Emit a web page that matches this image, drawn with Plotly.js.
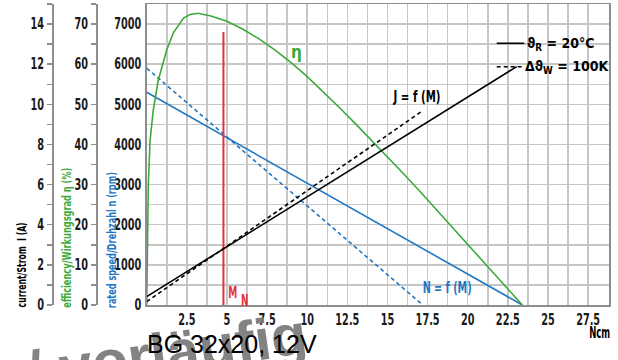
<!DOCTYPE html>
<html><head><meta charset="utf-8">
<script src="https://cdn.plot.ly/plotly-3.0.1.min.js"></script>
<style>html,body{margin:0;padding:0;background:#fff}</style>
</head><body><div id="chart" style="width:618px;height:360px"></div>
<script>
// ---- data ----
const torqueSpeed20 = [0, 23.4];
const speed20 = [5300, 0];
const torqueSpeed100 = [0, 17.2];
const speed100 = [5900, 0];
const torqueCurrent20 = [0, 23.05];
const current20 = [0.42, 11.88];
const torqueCurrent100 = [0, 17.1];
const current100 = [0.17, 9.63];
const torqueEff = [0, 0.04, 0.1, 0.21, 0.41, 0.72, 1.25, 1.66, 2.29, 2.7, 3.2, 4, 5, 6, 7, 8, 9, 10, 11, 12, 13, 14, 15, 16, 17, 18, 19, 20, 21, 22, 23, 23.4];
const efficiency = [0, 18, 30, 41, 48.6, 56, 63.6, 67.8, 71.5, 72.4, 72.7, 72.0, 70.7, 68.7, 66.3, 63.5, 60.4, 56.9, 53.1, 49.2, 45.2, 41.1, 36.9, 32.7, 28.4, 24.0, 19.6, 15.2, 10.8, 6.3, 1.8, 0];
const ratedTorque = [4.78, 4.78];
const ratedLine = [0, 6800];
const xTickVals = [2.5, 5, 7.5, 10, 12.5, 15, 17.5, 20, 22.5, 25, 27.5];
const xTickText = ['2.5', '5', '7.5', '10', '12.5', '15', '17.5', '20', '22.5', '25', '27.5'];

const NARROW = 'DejaVu Sans Condensed, Liberation Sans Narrow, sans-serif';
const GRID = '#c6c6c6';
const AX = '#8e8e8e';
const BLUE = '#1f77c4';
const GREEN = '#3caa3a';
const RED = '#e4303d';
const PW = 609, PT = 4, PB = 305;
const px = x => x / PW;
const py = y => (PB - y) / (PB - PT);

const traces = [
  {x: torqueSpeed20, y: speed20, mode: 'lines', line: {color: BLUE, width: 1.6}, yaxis: 'y'},
  {x: torqueSpeed100, y: speed100, mode: 'lines', line: {color: BLUE, width: 1.6, dash: '4px,3px'}, yaxis: 'y'},
  {x: torqueCurrent20, y: current20, mode: 'lines', line: {color: '#000', width: 1.6}, yaxis: 'y3'},
  {x: torqueCurrent100, y: current100, mode: 'lines', line: {color: '#000', width: 1.6, dash: '4px,3px'}, yaxis: 'y3'},
  {x: torqueEff, y: efficiency, mode: 'lines', line: {color: GREEN, width: 1.6}, yaxis: 'y2'},
  {x: ratedTorque, y: ratedLine, mode: 'lines', line: {color: RED, width: 2}, yaxis: 'y'}
];

const tickFont = {family: NARROW, size: 15, color: '#1a1a1a', weight: 'bold'};
function ann(text, cx, cy, size, color, extra) {
  return Object.assign({text: text, xref: 'paper', yref: 'paper', x: px(cx), y: py(cy),
    xanchor: 'center', yanchor: 'middle', showarrow: false,
    font: {family: NARROW, size: size, color: color, weight: 'bold'}}, extra || {});
}
// target widths (px) of texts, squeezed to the reference's narrow lettering
const squeezeLen = {};
const annotations = [];
function addAnn(a, len) { if (len) squeezeLen[annotations.length] = len; annotations.push(a); }

addAnn(ann('/ vorläufig', 166, 352, 58, 'rgba(120,120,120,0.92)', {textangle: -8}), 282);
annotations[0].font = {family: 'Liberation Sans, Arial, sans-serif', size: 58, color: 'rgba(120,120,120,0.92)', weight: 'bold'};
addAnn(ann('current/Strom  I (A)', 21, 265.5, 13, '#000', {textangle: -90}), 85);
addAnn(ann('efficiency/Wirkungsgrad η (%)', 66, 238, 13, GREEN, {textangle: -90}), 140);
addAnn(ann('rated speed/Drehzahl n (rpm)', 111, 240, 13, BLUE, {textangle: -90}), 136);
addAnn(ann('η', 296, 52, 17, GREEN));
addAnn(ann('J = f (M)', 416.7, 97, 15, '#000'), 47);
addAnn(ann('N = f (M)', 447, 288, 15, BLUE), 49);
addAnn(ann('M', 232, 293, 15, RED), 9);
addAnn(ann('N', 244.5, 300.5, 15, RED), 7.5);
addAnn(ann('ϑ<sub>R</sub> = 20°C', 561, 44, 14, '#000'));
addAnn(ann('Δϑ<sub>W</sub> = 100K', 567, 67, 14, '#000'));
addAnn(ann('Ncm', 599.5, 333, 15, '#000'), 21);
addAnn({text: 'BG 32x20, 12V', xref: 'paper', yref: 'paper', x: px(145), y: py(344), xanchor: 'left', yanchor: 'middle', showarrow: false,
  font: {family: 'Liberation Sans, Arial, sans-serif', size: 25, color: '#000'}});

const layout = {
  width: 618, height: 360,
  margin: {l: 0, r: 618 - PW, t: PT, b: 360 - PB},
  paper_bgcolor: '#fff', plot_bgcolor: '#fff',
  showlegend: false,
  xaxis: {
    domain: [146.7 / PW, 1], range: [0, 28.8],
    tickmode: 'array', tickvals: xTickVals, ticktext: xTickText,
    showgrid: true, gridcolor: GRID, gridwidth: 1.5,
    minor: {tickmode: 'linear', tick0: 0, dtick: 1.25, showgrid: true, gridcolor: GRID, gridwidth: 1.5},
    showline: true, mirror: true, linecolor: AX, linewidth: 1.5,
    zeroline: false, ticks: '', tickfont: tickFont
  },
  yaxis: {
    range: [0, 7500], tickmode: 'linear', tick0: 0, dtick: 1000,
    showgrid: true, gridcolor: GRID, gridwidth: 1.5,
    minor: {tickmode: 'linear', tick0: 0, dtick: 500, showgrid: true, gridcolor: GRID, gridwidth: 1.5},
    showline: true, mirror: true, linecolor: AX, linewidth: 1.5,
    zeroline: false, ticks: '', tickfont: tickFont, ticklabelstandoff: 1
  },
  yaxis2: {
    overlaying: 'y', anchor: 'free', position: 97 / PW, side: 'left',
    range: [0, 75], tickmode: 'linear', tick0: 0, dtick: 10,
    showgrid: false, zeroline: false,
    showline: true, linecolor: AX, linewidth: 2,
    ticks: 'outside', ticklen: 5, tickwidth: 1.5, tickcolor: AX,
    minor: {tickmode: 'linear', tick0: 0, dtick: 5, ticks: 'outside', ticklen: 5, tickwidth: 1.5, tickcolor: AX},
    tickfont: tickFont
  },
  yaxis3: {
    overlaying: 'y', anchor: 'free', position: 53 / PW, side: 'left',
    range: [0, 15], tickmode: 'linear', tick0: 0, dtick: 2,
    showgrid: false, zeroline: false,
    showline: true, linecolor: AX, linewidth: 2,
    ticks: 'outside', ticklen: 5, tickwidth: 1.5, tickcolor: AX,
    minor: {tickmode: 'linear', tick0: 0, dtick: 1, ticks: 'outside', ticklen: 5, tickwidth: 1.5, tickcolor: AX},
    tickfont: tickFont
  },
  shapes: [
    {type: 'line', xref: 'paper', yref: 'paper', x0: px(496.7), x1: px(524.3), y0: py(43.3), y1: py(43.3), line: {color: '#000', width: 1.6}},
    {type: 'line', xref: 'paper', yref: 'paper', x0: px(496.7), x1: px(524.3), y0: py(66.7), y1: py(66.7), line: {color: '#000', width: 1.6, dash: '4px,3px'}}
  ],
  annotations: annotations
};

function squeeze(el, len) {
  if (!el || !len) return;
  el.setAttribute('textLength', len.toFixed(1));
  el.setAttribute('lengthAdjust', 'spacingAndGlyphs');
}

Plotly.newPlot('chart', traces, layout, {staticPlot: true, displayModeBar: false}).then(function (gd) {
  gd.querySelectorAll('.xtick text, .ytick text, .y2tick text, .y3tick text').forEach(function (t) {
    const w = t.getComputedTextLength();
    if (w) squeeze(t, w * 0.72);
  });
  gd.querySelectorAll('g.annotation').forEach(function (g) {
    const idx = +g.getAttribute('data-index');
    if (squeezeLen[idx]) squeeze(g.querySelector('text.annotation-text'), squeezeLen[idx]);
  });
});
</script>
</body></html>
